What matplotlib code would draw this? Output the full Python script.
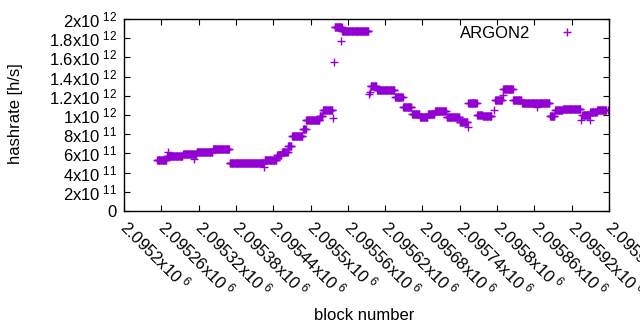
"""ARGON2 hashrate per block, gnuplot-style point plot."""
import matplotlib
matplotlib.use("Agg")
import matplotlib.pyplot as plt
import numpy as np

plt.rcParams["font.family"] = ["Liberation Sans", "DejaVu Sans"]
plt.rcParams["mathtext.fontset"] = "custom"
plt.rcParams["mathtext.rm"] = "Liberation Sans"

COLOR = "#9400d3"
FS = 12

# plateaus of the estimated hashrate: first block, last block, value [h/s]
seg_start = [2095253, 2095269, 2095295, 2095317, 2095343, 2095370, 2095426, 2095446,
             2095454, 2095464, 2095470, 2095488, 2095493, 2095515, 2095520, 2095539,
             2095551, 2095597, 2095607, 2095636, 2095649, 2095663, 2095676, 2095689,
             2095700, 2095719, 2095740, 2095754, 2095768, 2095777, 2095797, 2095810,
             2095826, 2095840, 2095858, 2095885, 2095893, 2095906, 2095937, 2095950,
             2095961]
seg_end = [2095268, 2095294, 2095316, 2095342, 2095369, 2095424, 2095445, 2095453,
           2095463, 2095469, 2095487, 2095492, 2095514, 2095519, 2095535, 2095550,
           2095593, 2095606, 2095635, 2095648, 2095662, 2095675, 2095688, 2095699,
           2095718, 2095739, 2095752, 2095767, 2095776, 2095791, 2095808, 2095825,
           2095839, 2095857, 2095884, 2095892, 2095905, 2095934, 2095948, 2095960,
           2095975]
seg_value = [0.53e12, 0.575e12, 0.595e12, 0.61e12, 0.645e12, 0.495e12, 0.535e12, 0.58e12,
             0.615e12, 0.68e12, 0.78e12, 0.85e12, 0.95e12, 0.99e12, 1.05e12, 1.92e12,
             1.87e12, 1.30e12, 1.26e12, 1.19e12, 1.08e12, 1.01e12, 0.98e12, 1.01e12,
             1.04e12, 0.98e12, 0.93e12, 1.12e12, 1.00e12, 0.99e12, 1.16e12, 1.27e12,
             1.16e12, 1.13e12, 1.12e12, 0.99e12, 1.05e12, 1.06e12, 1.00e12, 1.03e12,
             1.05e12]

# isolated blocks off their plateau
out_block = [2095271, 2095313, 2095425, 2095536, 2095538, 2095549, 2095594, 2095596,
             2095753, 2095795, 2095809, 2095864, 2095935, 2095949, 2095978]
out_value = [0.61e12, 0.54e12, 0.46e12, 0.97e12, 1.55e12, 1.77e12, 1.22e12, 1.24e12,
             0.875e12, 1.05e12, 1.21e12, 1.08e12, 0.95e12, 0.95e12, 1.05e12]

x_ticks = list(range(2095200, 2095981, 60))
y_ticks = [0, 2e11, 4e11, 6e11, 8e11, 1e12, 1.2e12, 1.4e12, 1.6e12, 1.8e12, 2e12]


def sci_label(v):
    if v == 0:
        return "0"
    exp = int(np.floor(np.log10(abs(v))))
    mant = v / 10 ** exp
    return r"$\mathregular{%gx10^{\ %d}}$" % (round(mant, 6), exp)


blocks = np.concatenate([np.arange(s, e + 1) for s, e in zip(seg_start, seg_end)] + [np.array(out_block)])
values = np.concatenate([np.full(e - s + 1, v) for s, e, v in zip(seg_start, seg_end, seg_value)]
                        + [np.array(out_value)])

fig = plt.figure(figsize=(6.4, 3.3), dpi=100)
ax = fig.add_axes([124 / 640, 1 - 211 / 330, (609 - 124) / 640, (211 - 19) / 330])
ax.plot(blocks, values, "+", color=COLOR, ms=5.5, mew=1.0, label="ARGON2")

ax.set_xlim(2095200, 2095980)
ax.set_ylim(0, 2e12)
ax.set_xticks(x_ticks)
ax.set_xticklabels([sci_label(t) for t in x_ticks], rotation=-45, ha="left", va="center",
                   rotation_mode="anchor", fontsize=FS)
ax.set_yticks(y_ticks)
ax.set_yticklabels([sci_label(t) for t in y_ticks], fontsize=FS)
ax.tick_params(direction="in", length=4, width=0.8, top=True, right=True, pad=5)
ax.tick_params(axis="x", pad=9)
for sp in ax.spines.values():
    sp.set_linewidth(1.0)

ax.legend(loc="upper right", frameon=False, markerfirst=False, fontsize=FS,
          handlelength=1.0, handletextpad=1.7, borderpad=0, borderaxespad=0,
          bbox_to_anchor=(575 / 640, 1 - 26 / 330), bbox_transform=fig.transFigure)

fig.text(16 / 640, 1 - 114 / 330, "hashrate [h/s]", rotation=90, ha="center", va="center", fontsize=FS)
fig.text(364 / 640, 1 - 315 / 330, "block number", ha="center", va="center", fontsize=FS)

fig.savefig("out.png", dpi=100)
